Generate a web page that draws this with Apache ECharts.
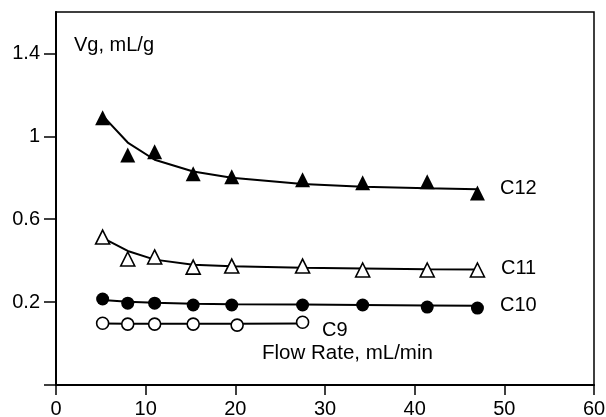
<!DOCTYPE html>
<html>
<head>
<meta charset="utf-8">
<script src="https://cdn.jsdelivr.net/npm/echarts@6/dist/echarts.min.js"></script>
<style>html,body{margin:0;padding:0;background:#fff}#c{width:606px;height:417px}</style>
</head>
<body>
<div id="c"></div>
<script>
// Data
const flowRate   = [5.2, 8.0, 11.0, 15.3, 19.6, 27.5, 34.2, 41.4, 47.0];
const flowRateC9 = [5.2, 8.0, 11.0, 15.3, 20.2, 27.5];
const c12    = [1.09, 0.91, 0.926, 0.82, 0.805, 0.79, 0.776, 0.781, 0.727];
const c12Fit = [1.10, 0.97, 0.887, 0.83, 0.80, 0.77, 0.757, 0.75, 0.745];
const c11    = [0.514, 0.408, 0.418, 0.369, 0.374, 0.374, 0.355, 0.355, 0.355];
const c11Fit = [0.51, 0.447, 0.405, 0.38, 0.373, 0.366, 0.362, 0.358, 0.357];
const c10    = [0.215, 0.195, 0.195, 0.186, 0.186, 0.186, 0.186, 0.176, 0.171];
const c10Fit = [0.21, 0.202, 0.197, 0.192, 0.19, 0.188, 0.186, 0.184, 0.183];
const c9     = [0.098, 0.094, 0.094, 0.094, 0.089, 0.103];
const c9Fit  = [0.097, 0.096, 0.096, 0.096, 0.096, 0.097];
const xTickLabels = [0, 10, 20, 30, 40, 50, 60];
const yTicks = [-0.2, 0.2, 0.6, 1, 1.4];
const yTickLabels = [0.2, 0.6, 1, 1.4];

const pair = (xs, ys) => xs.map((x, i) => [x, ys[i]]);
const FONT = 'Liberation Sans, Arial, Helvetica, sans-serif';

const fitLine = (name, xs, ys) => ({
  name: name + ' fit', type: 'line', data: pair(xs, ys), symbol: 'none',
  lineStyle: {color: '#000', width: 2}, z: 2, silent: true
});
const pts = (name, xs, ys, symbol, filled, size) => ({
  name: name, type: 'scatter', data: pair(xs, ys), symbol: symbol, symbolSize: size,
  itemStyle: {color: filled ? '#000' : '#fff', borderColor: '#000', borderWidth: filled ? 0 : 1.6, opacity: 1},
  z: 3
});

const chart = echarts.init(document.getElementById('c'), null, {renderer: 'canvas'});
chart.setOption({
  animation: false,
  backgroundColor: '#fff',
  grid: {left: 56, right: 12, top: 12, bottom: 32, containLabel: false, outerBoundsMode: 'none',
    show: true, borderColor: '#000', borderWidth: 1.5, backgroundColor: 'transparent'},
  xAxis: {
    type: 'value', min: 0, max: 60, interval: 10,
    axisLine: {show: true, onZero: false, lineStyle: {color: '#000', width: 2}},
    axisTick: {show: true, length: 10, lineStyle: {color: '#000', width: 1.5}},
    axisLabel: {color: '#000', fontSize: 20, fontFamily: FONT, margin: 14,
      customValues: xTickLabels, formatter: v => String(v)},
    splitLine: {show: false}
  },
  yAxis: {
    type: 'value', min: -0.2, max: 1.6,
    axisLine: {show: true, onZero: false, lineStyle: {color: '#000', width: 2}},
    axisTick: {show: true, length: 12, customValues: yTicks, lineStyle: {color: '#000', width: 1.5}},
    axisLabel: {color: '#000', fontSize: 20, fontFamily: FONT, margin: 16,
      customValues: yTickLabels, formatter: v => String(Math.round(v * 10) / 10)},
    splitLine: {show: false}
  },
  series: [
    fitLine('C12', flowRate, c12Fit),
    fitLine('C11', flowRate, c11Fit),
    fitLine('C10', flowRate, c10Fit),
    fitLine('C9', flowRateC9, c9Fit),
    pts('C12', flowRate, c12, 'triangle', true, 15),
    pts('C11', flowRate, c11, 'triangle', false, 14),
    pts('C10', flowRate, c10, 'circle', true, 13),
    pts('C9', flowRateC9, c9, 'circle', false, 12)
  ],
  graphic: [
    {type: 'text', x: 74, y: 45, style: {text: 'Vg, mL/g', font: '20px ' + FONT, fill: '#000', verticalAlign: 'middle'}},
    {type: 'text', x: 500, y: 188, style: {text: 'C12', font: '20px ' + FONT, fill: '#000', verticalAlign: 'middle'}},
    {type: 'text', x: 501, y: 268, style: {text: 'C11', font: '20px ' + FONT, fill: '#000', verticalAlign: 'middle'}},
    {type: 'text', x: 500, y: 305, style: {text: 'C10', font: '20px ' + FONT, fill: '#000', verticalAlign: 'middle'}},
    {type: 'text', x: 322, y: 330, style: {text: 'C9', font: '20px ' + FONT, fill: '#000', verticalAlign: 'middle'}},
    {type: 'text', x: 262, y: 353, style: {text: 'Flow Rate, mL/min', font: '20.5px ' + FONT, fill: '#000', verticalAlign: 'middle'}}
  ]
});
</script>
</body>
</html>
